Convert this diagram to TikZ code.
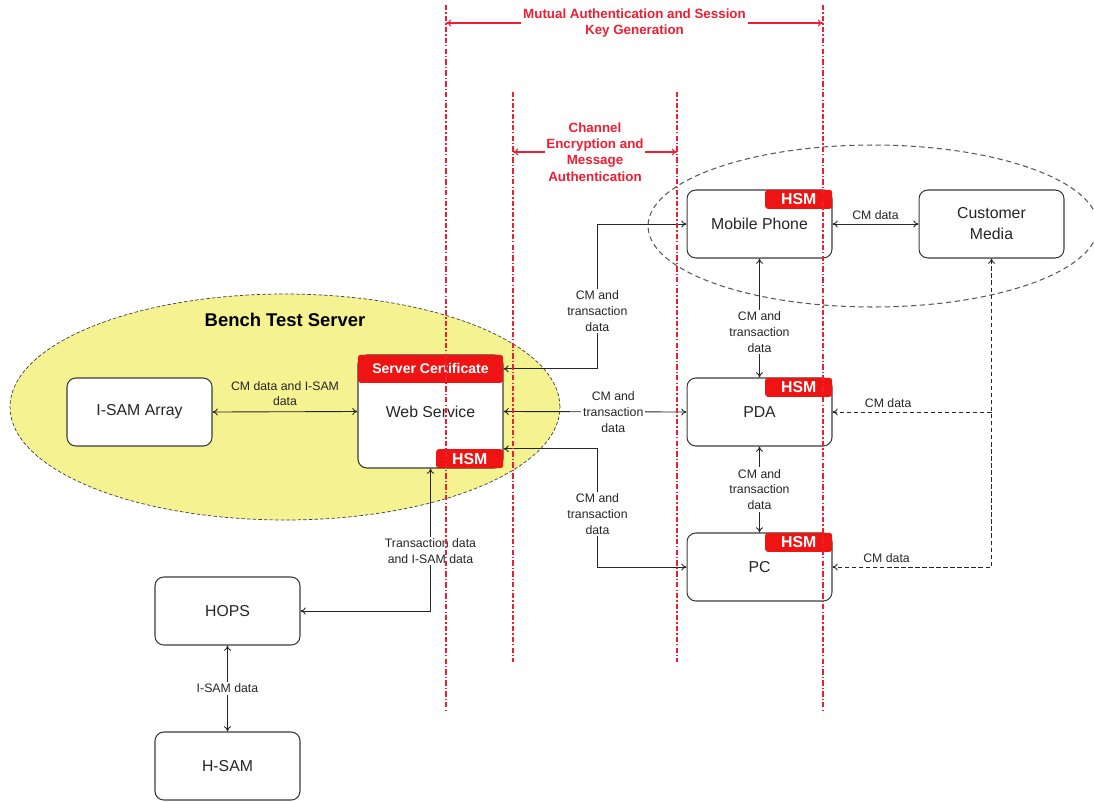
\documentclass[tikz,border=0pt]{standalone}
\usepackage{fontspec}
\setmainfont{Liberation Sans}
\usetikzlibrary{arrows.meta}
\definecolor{benchyellow}{RGB}{245,242,145}
\definecolor{hsmred}{RGB}{238,20,20}
\definecolor{boxline}{RGB}{60,60,60}
\definecolor{zonered}{RGB}{240,30,50}

\begin{document}
\begin{tikzpicture}[x=0.02cm,y=-0.02cm,>={To[length=3pt,width=4pt]},
   unit/.style={draw=boxline,line width=0.6pt,rounded corners=5pt,fill=white,
      minimum width=2.9cm,minimum height=1.36cm,align=center,
      font=\fontsize{9}{12}\selectfont,text=black!85},
   hsmtab/.style={fill=hsmred,rounded corners=1.5pt,minimum width=1.34cm,
      minimum height=0.38cm,inner sep=0pt,text=white,
      font=\bfseries\fontsize{9}{10}\selectfont},
   flow/.style={<->,line width=0.5pt,black!85},
   cmflow/.style={flow,dash pattern=on 2.5pt off 1.5pt},
   lbl/.style={fill=white,inner sep=1pt,align=center,font=\fontsize{7}{9}\selectfont},
   zone/.style={zonered,line width=0.65pt,dash pattern=on 3pt off 1.2pt on 0.8pt off 1.2pt},
   zonearrow/.style={<->,zonered,line width=0.6pt},
   zonelbl/.style={fill=white,inner sep=1pt,align=center,text=zonered,
      font=\bfseries\fontsize{7.6}{9.2}\selectfont}]
   \useasboundingbox (0,0) rectangle (1094,801);

   \draw[fill=benchyellow,draw=black!75,dash pattern=on 2pt off 1.2pt] (285,407) ellipse [x radius=5.5cm,y radius=2.26cm];
   \draw[draw=black!65,line width=0.6pt,dash pattern=on 3pt off 2pt] (873,226) ellipse [x radius=4.5cm,y radius=1.62cm];
   \node[font=\bfseries\fontsize{10.5}{12}\selectfont] (bts) at (285,320) {Bench Test Server};

   \node[unit] (isam) at (139.5,412) {I-SAM Array};
   \node[unit,minimum height=2.26cm] (ws) at (430.5,411.5) {Web Service};
   \node[unit] (mob) at (759.5,224) {Mobile Phone};
   \node[unit] (cmed) at (991.5,224) {Customer\\Media};
   \node[unit] (pda) at (759.5,412) {PDA};
   \node[unit] (pc) at (759.5,567) {PC};
   \node[unit] (hops) at (227.5,611) {HOPS};
   \node[unit] (hsam) at (227.5,766) {H-SAM};

   \node[hsmtab,anchor=north,minimum width=2.9cm,minimum height=0.56cm,
      font=\bfseries\fontsize{8}{10}\selectfont] (cert) at (ws.north) {Server Certificate};
   \node[hsmtab,anchor=south east] (wshsm) at (ws.south east) {HSM};
   \node[hsmtab,anchor=north east] (mobhsm) at (mob.north east) {HSM};
   \node[hsmtab,anchor=north east] (pdahsm) at (pda.north east) {HSM};
   \node[hsmtab,anchor=north east] (pchsm) at (pc.north east) {HSM};

   \draw[flow] (isam.east) -- (ws.west) node[lbl,fill=none,midway,above=2pt] {CM data and I-SAM\\data};
   \draw[flow] (cert.east) -- ++(94,0) |- (mob.west) node[lbl,pos=0.2] {CM and\\transaction\\data};
   \draw[flow] (ws.east) -- (pda.west) node[lbl,pos=0.6] {CM and\\transaction\\data};
   \draw[flow] (wshsm.north east) -- ++(94,0) |- (pc.west) node[lbl,pos=0.275] {CM and\\transaction\\data};
   \draw[flow] (mob.south) -- (pda.north) node[lbl,pos=0.62] {CM and\\transaction\\data};
   \draw[flow] (pda.south) -- (pc.north) node[lbl,midway] {CM and\\transaction\\data};
   \draw[flow] (mob.east) -- (cmed.west) node[lbl,midway,above=1pt] {CM data};
   \draw[cmflow] (cmed.south) |- (pc.east) node[lbl,pos=0.83,above=1pt] {CM data};
   \draw[cmflow,->] (cmed.south |- pda.east) -- (pda.east) node[lbl,pos=0.65,above=1pt] {CM data};
   \draw[flow] (hops.east) -| (ws.south) node[lbl,pos=0.71] {Transaction data\\and I-SAM data};
   \draw[flow] (hops.south) -- (hsam.north) node[lbl,midway] {I-SAM data};

   \coordinate (mutL) at (446,23);
   \coordinate (mutR) at (823,23);
   \coordinate (chaL) at (513,152);
   \coordinate (chaR) at (677,152);
   \draw[zonearrow] (mutL) -- (mutR) node[zonelbl,midway] {Mutual Authentication and Session\\Key Generation};
   \draw[zonearrow] (chaL) -- (chaR) node[zonelbl,midway] {Channel\\Encryption and\\Message\\Authentication};
   \draw[zone] (446,5) -- (446,712);
   \draw[zone] (823,5) -- (823,712);
   \draw[zone] (513,92) -- (513,662);
   \draw[zone] (677,92) -- (677,662);
\end{tikzpicture}
\end{document}
